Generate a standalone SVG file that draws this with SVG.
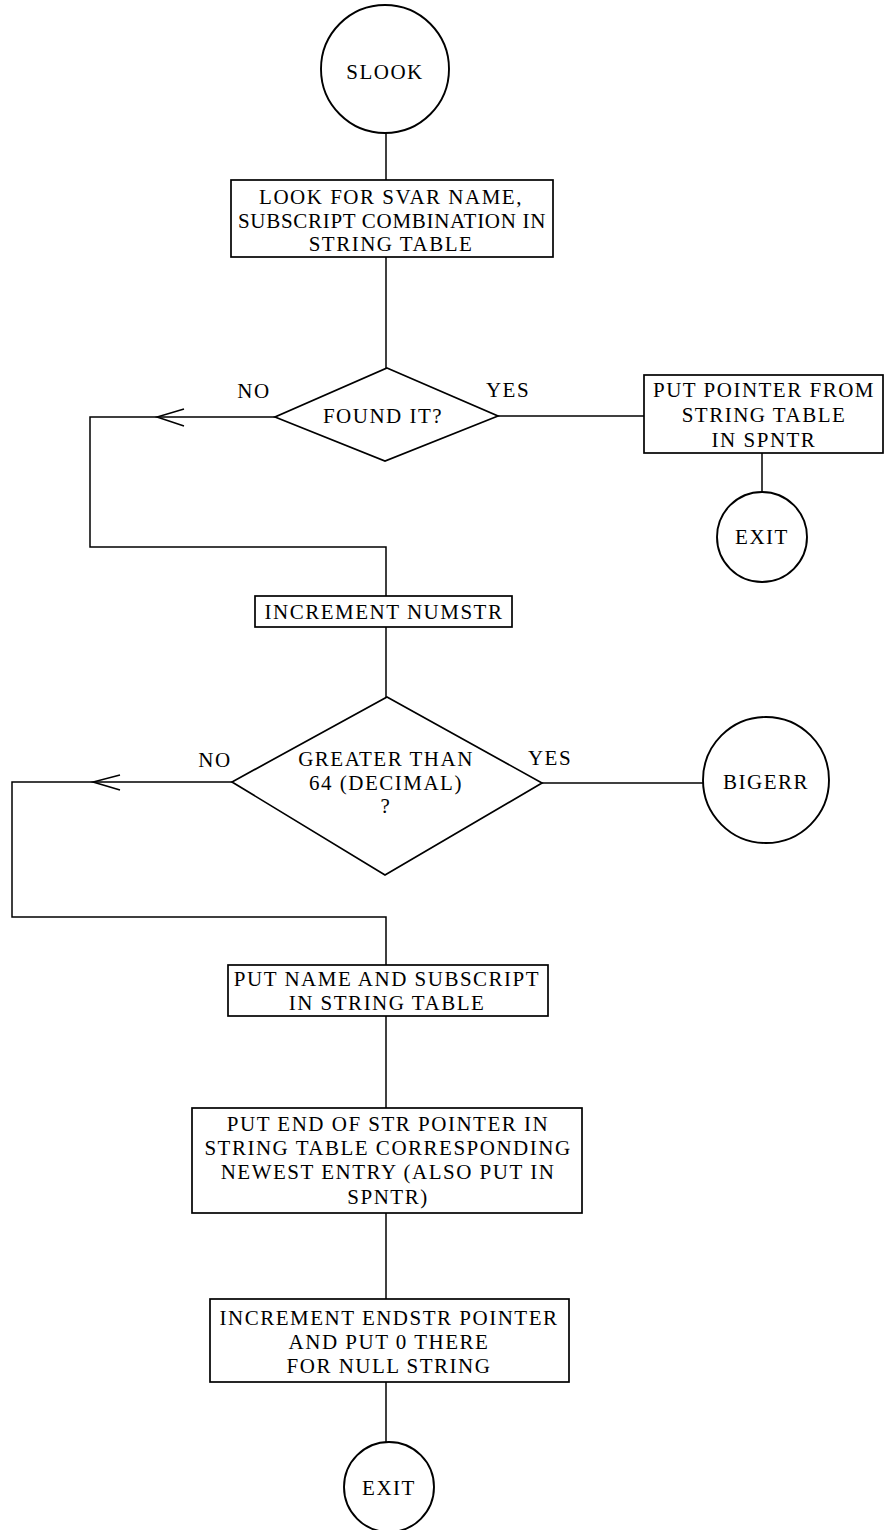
<svg xmlns="http://www.w3.org/2000/svg" width="884" height="1530" viewBox="0 0 884 1530">
<style>
  .shape { fill: none; stroke: #000; stroke-width: 1.7; }
  .circ { fill: none; stroke: #000; stroke-width: 1.9; }
  .line { fill: none; stroke: #000; stroke-width: 1.5; }
  text { font-family: "Liberation Serif", "Times New Roman", serif; font-size: 21px; fill: #000; text-anchor: middle; letter-spacing: 1.5px; }
</style>
<rect width="884" height="1530" fill="#fff"/>
<g id="connectors">
  <polyline class="line" points="386,133 386,180"/>
  <polyline class="line" points="386,257 386,368"/>
  <polyline class="line" points="275,417 90,417 90,547 386,547 386,596"/>
  <polyline class="line" points="184,409 157,417 184,426"/>
  <polyline class="line" points="498,416 644,416"/>
  <polyline class="line" points="762,453 762,492"/>
  <polyline class="line" points="386,627 386,697"/>
  <polyline class="line" points="232,782 12,782 12,917 386,917 386,965"/>
  <polyline class="line" points="120,775 93,782 120,790"/>
  <polyline class="line" points="542,783 703,783"/>
  <polyline class="line" points="386,1016 386,1108"/>
  <polyline class="line" points="386,1213 386,1299"/>
  <polyline class="line" points="386,1382 386,1442"/>
  <text x="254" y="398">NO</text>
  <text x="508" y="397">YES</text>
  <text x="215" y="767">NO</text>
  <text x="550" y="765">YES</text>
</g>
<g id="slook">
  <circle class="circ" cx="385" cy="69" r="64"/>
  <text x="385" y="79">SLOOK</text>
</g>
<g id="look">
  <rect class="shape" x="231" y="180" width="322" height="77"/>
  <text x="391" y="204">LOOK FOR SVAR NAME,</text>
  <text x="392" y="228" style="letter-spacing:0.7px">SUBSCRIPT COMBINATION IN</text>
  <text x="391" y="251">STRING TABLE</text>
</g>
<g id="found">
  <polygon class="shape" points="387,368 498,416 385,461 275,417"/>
  <text x="383" y="423">FOUND IT?</text>
</g>
<g id="putpointer">
  <rect class="shape" x="644" y="375" width="239" height="78"/>
  <text x="764" y="397">PUT POINTER FROM</text>
  <text x="764" y="422">STRING TABLE</text>
  <text x="764" y="447">IN SPNTR</text>
</g>
<g id="exit1">
  <circle class="circ" cx="762" cy="537" r="45"/>
  <text x="762" y="544">EXIT</text>
</g>
<g id="incnumstr">
  <rect class="shape" x="255" y="596" width="257" height="31"/>
  <text x="384" y="619">INCREMENT NUMSTR</text>
</g>
<g id="greater">
  <polygon class="shape" points="387,697 542,783 385,875 232,782"/>
  <text x="386" y="766">GREATER THAN</text>
  <text x="386" y="790">64 (DECIMAL)</text>
  <text x="386" y="813">?</text>
</g>
<g id="bigerr">
  <circle class="circ" cx="766" cy="780" r="63"/>
  <text x="766" y="789">BIGERR</text>
</g>
<g id="putname">
  <rect class="shape" x="228" y="965" width="320" height="51"/>
  <text x="387" y="986">PUT NAME AND SUBSCRIPT</text>
  <text x="387" y="1010">IN STRING TABLE</text>
</g>
<g id="putend">
  <rect class="shape" x="192" y="1108" width="390" height="105"/>
  <text x="388" y="1131">PUT END OF STR POINTER IN</text>
  <text x="388" y="1155">STRING TABLE CORRESPONDING</text>
  <text x="388" y="1179">NEWEST ENTRY (ALSO PUT IN</text>
  <text x="388" y="1204">SPNTR)</text>
</g>
<g id="incendstr">
  <rect class="shape" x="210" y="1299" width="359" height="83"/>
  <text x="389" y="1325">INCREMENT ENDSTR POINTER</text>
  <text x="389" y="1349">AND PUT 0 THERE</text>
  <text x="389" y="1373">FOR NULL STRING</text>
</g>
<g id="exit2">
  <circle class="circ" cx="389" cy="1487" r="45"/>
  <text x="389" y="1495">EXIT</text>
</g>
</svg>
